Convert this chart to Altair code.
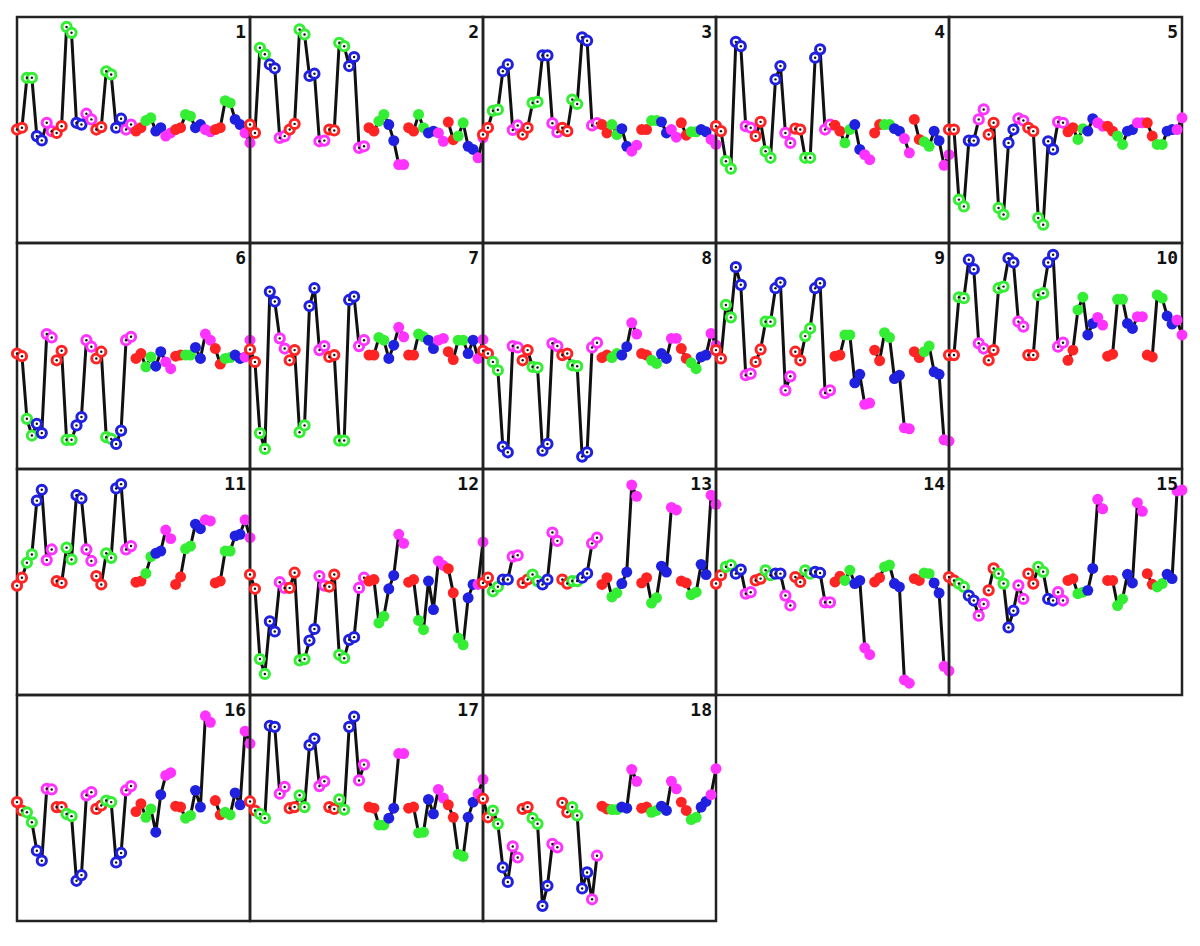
import altair as alt
import pandas as pd

# Each panel: 48 values = 6 cycles x (R,R,G,G,B,B,M,M); first 3 cycles hollow, last 3 filled
p1 = [50.2,51,73.1,73.1,47.3,45.4,53.2,49.5, 48.7,51.7,95.6,93,53.2,52.4,57.2,54.7,
      50.2,51.3,76,74.6,51,55,50.2,52.4, 49.5,51,54.2,55.4,49.5,51,47.3,48.7,
      50.2,51,56.9,56.1,51,52.4,50.2,49.2, 50.2,51,63,62,54.7,52.4,48.7,44.3]
p2 = [52.4,48.7,86.4,83.5,79,77.3,46.5,47.3, 50.2,52.7,94.5,92.3,73.9,74.9,45,45.3,
      50.2,49.8,88.6,87.1,78.3,82.3,42.1,42.8, 51,49.5,53.9,56.9,52.4,45.3,34.7,34.7,
      51,49.5,56.9,51,48.7,49.5,48.7,45, 53.5,45.7,47.3,53.2,42.8,41.4,37.7,46.5]
p3 = [48,51,58.5,59,76,79,50,52, 48,51,62,62.5,83,83,53,49,
      51,49.5,63.5,61.5,91,89.5,52,53, 52.4,48.7,52.4,48,50.6,42.8,40.6,43.3,
      50.2,50.2,54.2,54.2,53.6,48.7,50.2,46.8, 53.2,47.7,49.2,49.2,50.2,49.2,45.8,43.6]
p4 = [51.7,49.5,36.2,32.9,89,87.1,51.7,51, 47.3,53.6,40.6,37.7,72.4,78.3,48.7,44.3,
      50.6,50.2,37.7,37.7,82,85.7,50.2,52.4, 52.1,49.5,44.3,50.2,52.4,41.4,39.1,36.9,
      48.7,52.4,52.4,52.4,50.6,49.5,46.2,39.9, 54.7,45.8,44.8,42.8,49.5,45.3,34.4,39.1]
p5 = [50.2,50.2,19.2,16.2,45.3,45.3,54.7,59.1, 48,53.2,15.5,12.6,44.3,50.2,55.1,54.2,
      51,49.5,11.1,8.1,45,41.4,53.6,53.2, 49.2,51,45.8,50.6,49.5,55,53.2,51.7,
      51.7,49.5,47.3,43.6,49.5,50.2,53.2,53.2, 53.2,47.3,43.6,43.6,49.5,50.2,50.2,55.4]
p6 = [51.1,49.9,22.2,14.8,20,15.9,59.7,58.2, 48.1,52.3,12.9,12.9,19.3,23,57,54.1,
      48.9,51.9,14.1,13.3,11.1,17,57,58.5, 48.9,51.1,45.2,49.6,45.5,51.9,47.4,44.4,
      49.9,50.4,50.4,50.4,53.8,48.9,59.7,57, 53.3,46.4,48.9,49.3,50.4,48.9,49.6,57]
p7 = [52.9,47.4,15.9,8.9,78.5,74.1,57.8,53.3, 48.1,52.6,16.3,19.3,72.1,80,52.6,54.4,
      49.6,50.4,12.6,12.6,74.8,76.3,54.4,57, 50.4,50.4,58.2,57,48.9,54.8,62.7,58.5,
      50.4,50.4,59.7,58.5,57,53.3,57,57.8, 51.9,48.4,57,57,51.1,57,48.9,57.3]
p8 = [52.3,51.1,47.4,43.7,9.9,7.4,54.4,53.8, 48.1,52.6,45.2,44.9,8.1,11.1,55.6,54.4,
      50.4,51.1,45.9,45.5,5.5,7.4,53.8,55.9, 49.3,50.4,49.3,51.1,50.4,54.1,64.7,59.7,
      51.1,50.4,48.1,46.7,51.1,48.9,57.8,57.8, 53.3,48.9,47,44.4,49.6,50.4,60,54.8]
p9 = [52.6,48.9,72.6,67.1,89.3,81.5,41.5,42.2, 47.4,52.9,65.2,65.2,80,82.5,34.8,41,
      51.9,48.1,58.8,62.2,80,82.2,33.6,34.8, 49.9,50.4,59.3,59.3,38.1,41.9,28.6,29.2,
      52.6,47.9,60.3,58.2,40,41.5,18.2,17.8, 51.9,49.3,51.9,54.4,43,41.9,12.9,12.3]
p10 = [50.4,50.4,76,75.6,92.6,88.4,55.6,53.3, 48.1,52.6,80,80.7,93.3,91.4,65.2,63,
       50.4,50.4,77,77.8,91.4,94.8,54.1,55.9, 48.1,52.6,70.4,76,59.3,64.4,67.1,63.7,
       49.9,50.8,75.1,75.1,64.4,62.2,67.4,67.4, 50.4,49.6,77,75.6,67.7,64.1,65.9,59.3]
p11 = [48.4,51.9,58.5,62.2,86,90.8,59.7,64.4, 50.4,49.6,65.2,60,88.4,87,64.4,59.3,
       52.6,48.9,62.7,60.7,91.4,93.3,64.4,65.9, 49.9,50.4,53.8,61.2,62.7,63.7,73,69.2,
       48.9,52.3,64.7,65.9,75.6,73.6,77.5,77, 49.6,50.4,63.7,63.7,70.4,71.1,77.5,69.6]
p12 = [53.3,47,15.9,9.3,32.6,28.1,49.9,47.4, 47.4,54.1,15.3,15.9,24.1,29.2,52.6,48.4,
       47.9,53.3,17.8,16.3,24.4,25.6,47.4,51.9, 50.4,51.1,31.9,34.8,47,52.9,71.1,67.1,
       49.9,51.1,33,28.9,50.4,37.8,59.3,57.3, 55.9,45.2,25.2,22.2,43,48.9,48.9,67.7]
p13 = [49.6,51.9,45.9,47.9,51.1,51.1,61.2,61.8, 49.6,51.1,53.3,50.4,48.9,51.1,71.9,68.2,
       51.1,49.3,50.4,50.4,51.9,53.8,67.1,69.6, 48.9,51.9,43.4,45.2,49.3,54.4,92.9,87.9,
       49.6,51.9,40.7,43,57,54.4,83,81.9, 50.4,49.6,44.4,45.5,57.8,53.3,88.4,84.4]
p14 = [49.3,53,56.7,57.5,53.7,55.5,44.8,45.5, 50.7,51.5,55.2,53,53.7,53.7,44,39.6,
       52.2,50,55.2,53.7,54.5,54,41,41, 50,52.5,50.7,55.2,49.3,50.7,20.9,17.9,
       50,51.9,56.7,57.5,49.3,47.8,6.7,5.2, 51.5,50.7,54,53.7,49.6,45.1,12.7,10.7]
p15 = [52.2,50.7,49.3,47.8,44,41.8,35.1,40.3, 46.3,56,53.7,49.3,29.9,37.3,48.5,42.5,
       53.7,49.3,56.7,54.5,42.5,41.8,45.5,41.8, 50.7,51.5,44.8,45.5,46.3,56,86.6,82.4,
       50.7,50.7,39.6,42.5,53.4,49.6,85.1,81.3, 53.7,49,47.8,49.3,53.4,51.5,90.3,90.7]
p16 = [52.6,48.9,48.1,43.7,31.1,26.7,58.5,58.2, 50.4,50.4,47.4,46.4,17.8,20.3,55.6,57,
       49.6,51.1,53.3,52.6,25.9,30.1,57.8,59.7, 48.4,51.9,45.9,49.6,39.3,55.9,64.4,65.6,
       50.8,50.4,45.5,46.7,57.8,50.4,90.8,87.9, 53.3,47,48.1,47,56.7,51.4,84,78.5]
p17 = [52.9,48.9,47.4,45.5,86.4,85.9,56.3,59.3, 49.9,50.4,55.6,50.4,77.8,80.7,59.7,61.8,
       50.4,49.6,53.8,49.3,85.9,90.4,62.2,69.2, 50.4,49.9,42.5,42.5,45.5,49.9,74.1,74.1,
       49.9,50.4,39,39.3,53.8,47.4,58.2,54.4, 51.4,45.9,29.6,28.6,45.9,52.6,56.3,62.7]
p18 = [54.1,45.9,48.9,43,23.7,17.3,33,28.1, 49.6,50.4,45.5,43,6.7,15.6,34.1,32.6,
       52.3,48.1,50.4,46.7,14.4,21.5,9.6,28.9, 50.8,49.6,49.3,49.3,50.4,49.9,67.1,61.8,
       49.9,50.4,48.1,48.9,50.8,48.9,61.8,58.5, 52.6,48.9,44.9,45.9,50.4,52.9,55.9,67.4]

PANELS = [p1, p2, p3, p4, p5, p6, p7, p8, p9, p10, p11, p12, p13, p14, p15, p16, p17, p18]
CYCLE_COLORS = ["R", "R", "G", "G", "B", "B", "M", "M"]
COLOR_DOMAIN = ["R", "G", "B", "M"]
COLOR_RANGE = ["#FF2424", "#33EE33", "#2020E0", "#FF33FF"]

W, H = 233, 226
cscale = alt.Scale(domain=COLOR_DOMAIN, range=COLOR_RANGE)


def panel_chart(num, vals):
    df = pd.DataFrame({
        "idx": list(range(len(vals))),
        "cycle": [i // 8 for i in range(len(vals))],
        "col": [CYCLE_COLORS[i % 8] for i in range(len(vals))],
        "hollow": [i < 24 for i in range(len(vals))],
        "v": vals,
        "panel": [str(num)] * len(vals),
    })
    x = alt.X("idx:Q", scale=alt.Scale(domain=[0, 47], nice=False, zero=False), axis=None)
    y = alt.Y("v:Q", scale=alt.Scale(domain=[0, 100], nice=False, zero=False), axis=None)
    line = alt.Chart().mark_line(color="#111111", strokeWidth=3).encode(
        x=x, y=y, detail="cycle:N", order="idx:Q")
    hollow = alt.Chart().transform_filter("datum.hollow").mark_circle(
        fill="white", strokeWidth=3, size=85, opacity=1).encode(
        x=x, y=y, stroke=alt.Stroke("col:N", scale=cscale, legend=None))
    dots = alt.Chart().transform_filter("datum.hollow").mark_circle(
        color="#111111", size=6, opacity=1).encode(x=x, y=y)
    filled = alt.Chart().transform_filter("!datum.hollow").mark_circle(
        size=120, opacity=1).encode(
        x=x, y=y, color=alt.Color("col:N", scale=cscale, legend=None))
    label = alt.Chart().transform_filter("datum.idx == 0").mark_text(
        align="right", baseline="top", font="DejaVu Sans Mono", fontWeight="bold",
        fontSize=18, color="#111111").encode(
        x=alt.value(W - 4), y=alt.value(7), text="panel:N")
    return alt.layer(line, hollow, dots, filled, label, data=df).properties(width=W, height=H)


charts = [panel_chart(k + 1, vals) for k, vals in enumerate(PANELS)]

chart = alt.concat(*charts, columns=5, spacing=0, bounds="flush").properties(
    padding={"left": -3, "top": 7, "right": 0, "bottom": 0},
).configure_view(stroke="#222222", strokeWidth=2.5).configure_concat(spacing=0)

chart.save("out.html", embed_options={"renderer": "svg", "actions": False})
